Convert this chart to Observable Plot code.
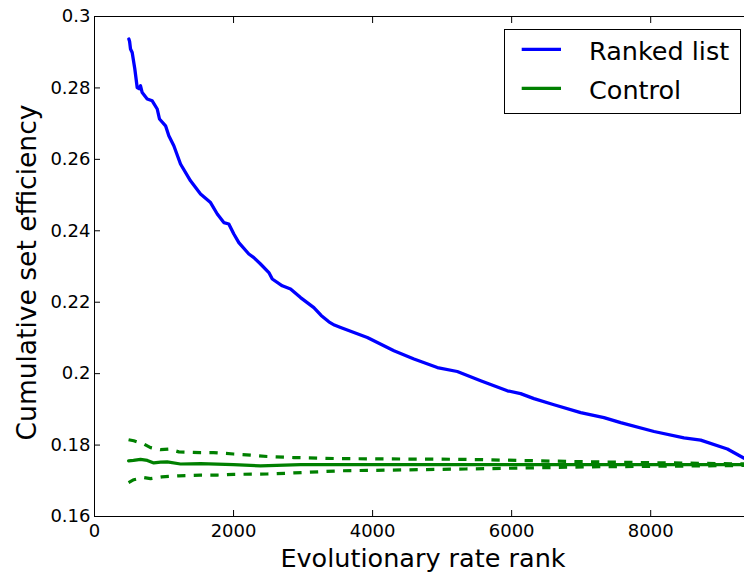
<!DOCTYPE html>
<html>
<head>
<meta charset="utf-8">
<script src="https://cdn.jsdelivr.net/npm/d3@7"></script>
<script src="https://cdn.jsdelivr.net/npm/@observablehq/plot@0.6"></script>
<style>
  html, body { margin: 0; padding: 0; background: white; overflow: hidden; }
  #wrap { position: relative; width: 744px; height: 573px; overflow: hidden; background: white; }
  #legend { position: absolute; left: 504px; top: 29px; }
</style>
</head>
<body>
<div id="wrap"></div>
<script>
// ---- data ----
const rankedList = [
  [494,0.2937],[505,0.2930],[518,0.2909],[542,0.2899],[580,0.2853],[614,0.2801],[640,0.2798],[662,0.2806],
  [686,0.2787],[758,0.2769],[830,0.2764],[902,0.2741],[935,0.2713],[1022,0.2694],[1069,0.2666],[1141,0.2638],
  [1237,0.2587],[1381,0.2540],[1525,0.2503],[1669,0.2479],[1766,0.2447],[1860,0.2423],[1932,0.2419],[2004,0.2391],
  [2076,0.2367],[2220,0.2335],[2292,0.2325],[2388,0.2307],[2508,0.2283],[2557,0.2265],[2701,0.2246],[2820,0.2237],
  [2964,0.2213],[3155,0.2185],[3260,0.2163],[3371,0.2145],[3450,0.2136],[3540,0.2129],[3924,0.2101],[4307,0.2064],
  [4595,0.2041],[4931,0.2017],[5218,0.2006],[5554,0.1980],[5938,0.1952],[6129,0.1944],[6321,0.1930],[6609,0.1913],
  [6993,0.1891],[7328,0.1877],[7568,0.1863],[8048,0.1838],[8479,0.1820],[8719,0.1814],[9103,0.1789],[9338,0.1764],
  [9450,0.1752]
];
const controlMean = [
  [490,0.1756],[560,0.1757],[662,0.1760],[760,0.1757],[853,0.1750],[950,0.1752],[1046,0.1753],[1237,0.1747],
  [1525,0.1748],[2000,0.1745],[2388,0.1742],[2964,0.1745],[4000,0.1745],[6000,0.1745],[8000,0.1745],[9450,0.1745]
];
const controlUpper = [
  [490,0.1815],[565,0.1812],[709,0.1803],[806,0.1793],[950,0.1787],[1069,0.1789],[1213,0.1781],[1525,0.1779],
  [1712,0.1779],[2000,0.1775],[2245,0.1772],[2485,0.1768],[2868,0.1765],[3540,0.1762],[5338,0.1760],[7137,0.1753],[9450,0.1747]
];
const controlLower = [
  [490,0.1695],[565,0.1703],[709,0.1709],[806,0.1706],[968,0.1711],[1213,0.1714],[1525,0.1716],[1765,0.1716],
  [2000,0.1718],[2485,0.1719],[2868,0.1722],[3540,0.1728],[5338,0.1733],[7137,0.1739],[9450,0.1743]
];
const xTicks = [0, 2000, 4000, 6000, 8000];
const yTicks = [0.16, 0.18, 0.20, 0.22, 0.24, 0.26, 0.28, 0.30];
const seriesNames = ["Ranked list", "Control"];
const seriesColors = ["#0000ff", "#008000"];
const xLabel = "Evolutionary rate rank";
const yLabel = "Cumulative set efficiency";

const yFmt = d => String(Math.round(d * 100) / 100);
const xFmt = d => String(d);

const chart = Plot.plot({
  width: 744,
  height: 573,
  marginLeft: 94,
  marginRight: -7,
  marginTop: 16,
  marginBottom: 57,
  style: {fontFamily: "DejaVu Sans", fontSize: "18px", color: "black", background: "white"},
  x: {domain: [0, 9450], label: null},
  y: {domain: [0.16, 0.30], label: null},
  marks: [
    Plot.line(controlUpper, {x: d => d[0], y: d => d[1], stroke: seriesColors[1], strokeWidth: 3.2, strokeDasharray: "8.3,8.3", strokeLinecap: "butt"}),
    Plot.line(controlLower, {x: d => d[0], y: d => d[1], stroke: seriesColors[1], strokeWidth: 3.2, strokeDasharray: "8.3,8.3", strokeLinecap: "butt"}),
    Plot.line(controlMean, {x: d => d[0], y: d => d[1], stroke: seriesColors[1], strokeWidth: 3.2}),
    Plot.line(rankedList, {x: d => d[0], y: d => d[1], stroke: seriesColors[0], strokeWidth: 3.3}),
    Plot.frame({stroke: "black", strokeWidth: 1}),
    Plot.axisX({anchor: "bottom", ticks: xTicks, tickSize: -6, tickPadding: 14, tickFormat: xFmt, label: null, fontSize: 18}),
    Plot.axisX({anchor: "top", ticks: xTicks, tickSize: -6, tickFormat: () => "", label: null}),
    Plot.axisY({anchor: "left", ticks: yTicks, tickSize: -6, tickPadding: 10, tickFormat: yFmt, label: null, fontSize: 18}),
    Plot.axisY({anchor: "right", ticks: yTicks, tickSize: -6, tickFormat: () => "", label: null}),
    Plot.text([xLabel], {frameAnchor: "bottom", text: d => d, textAnchor: "middle", lineAnchor: "middle", dx: 0, dy: 42.3, fontSize: 25.5, fill: "black"}),
    Plot.text([yLabel], {frameAnchor: "left", text: d => d, rotate: -90, textAnchor: "middle", lineAnchor: "middle", dx: -66.6, dy: 6, fontSize: 26.5, fill: "black"})
  ]
});
document.getElementById("wrap").appendChild(chart);

// legend overlay (upper right, inside the axes)
const legend = d3.select("#wrap").append("svg")
  .attr("id", "legend").attr("width", 238).attr("height", 86)
  .style("font-family", "DejaVu Sans");
legend.append("rect").attr("x", 0.5).attr("y", 0.5).attr("width", 236).attr("height", 84)
  .attr("fill", "white").attr("stroke", "black").attr("stroke-width", 1);
const rows = legend.selectAll("g.row").data(seriesNames).join("g")
  .attr("transform", (d, i) => `translate(0, ${20.3 + i * 39})`);
rows.append("line").attr("x1", 17.7).attr("x2", 57).attr("y1", 0).attr("y2", 0)
  .attr("stroke", (d, i) => seriesColors[i]).attr("stroke-width", 3.3);
rows.append("text").attr("x", 85).attr("y", 10.5).attr("font-size", 25.5).attr("fill", "black").text(d => d);
</script>
</body>
</html>
